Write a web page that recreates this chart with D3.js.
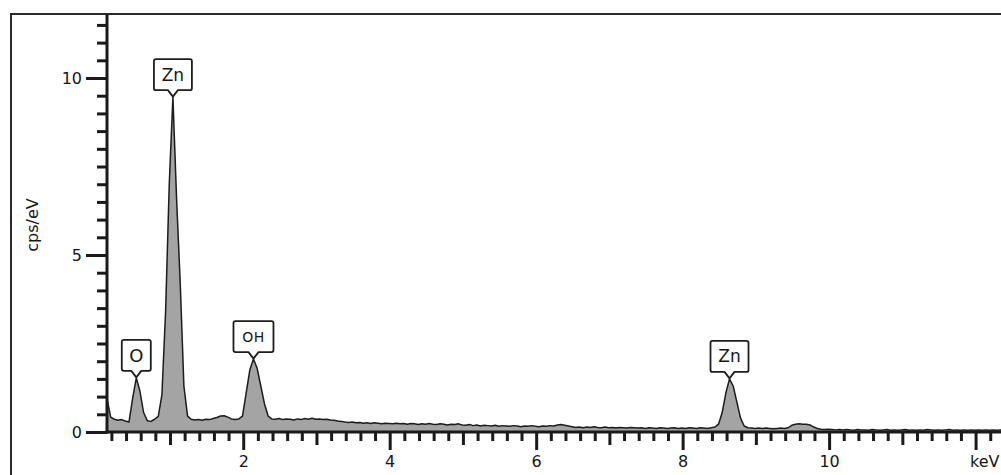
<!DOCTYPE html>
<html>
<head>
<meta charset="utf-8">
<script src="https://cdn.jsdelivr.net/npm/d3@7"></script>
<style>
  html, body { margin: 0; padding: 0; background: #fff; }
  svg { display: block; }
  text { font-family: "DejaVu Sans", Verdana, sans-serif; fill: #161616; }
</style>
</head>
<body>
<svg id="chart" width="1001" height="475"></svg>
<script>
// EDS spectrum: counts per eV sampled on a 0.05 keV channel grid starting at 0.14 keV
const energyStart = 0.14;
const energyStep = 0.05;
const counts = [
  // 0.14 – 1.09 keV
  0.95, 0.42, 0.36, 0.33, 0.35, 0.31, 0.28, 0.95, 1.53, 1.15, 0.55, 0.32, 0.30, 0.36, 0.44, 1.05, 3.40, 7.00, 9.46, 6.60,
  // 1.14 – 2.09 keV
  4.20, 1.30, 0.45, 0.36, 0.34, 0.35, 0.33, 0.36, 0.35, 0.38, 0.41, 0.45, 0.46, 0.42, 0.37, 0.35, 0.37, 0.45, 1.10, 1.75,
  // 2.14 – 3.09 keV
  2.06, 1.80, 1.30, 0.80, 0.45, 0.37, 0.36, 0.38, 0.35, 0.37, 0.36, 0.34, 0.37, 0.35, 0.38, 0.36, 0.39, 0.36, 0.37, 0.35,
  // 3.14 – 4.09 keV
  0.36, 0.34, 0.33, 0.31, 0.30, 0.28, 0.27, 0.28, 0.26, 0.27, 0.25, 0.26, 0.24, 0.26, 0.25, 0.23, 0.25, 0.24, 0.23, 0.25,
  // 4.14 – 5.09 keV
  0.23, 0.24, 0.22, 0.24, 0.23, 0.21, 0.23, 0.22, 0.24, 0.22, 0.21, 0.23, 0.22, 0.20, 0.22, 0.21, 0.23, 0.20, 0.19, 0.21,
  // 5.14 – 6.09 keV
  0.18, 0.20, 0.17, 0.19, 0.18, 0.17, 0.19, 0.16, 0.18, 0.17, 0.16, 0.18, 0.17, 0.15, 0.17, 0.16, 0.18, 0.16, 0.15, 0.17,
  // 6.14 – 7.09 keV
  0.16, 0.18, 0.17, 0.20, 0.21, 0.19, 0.17, 0.15, 0.13, 0.14, 0.12, 0.14, 0.13, 0.15, 0.13, 0.12, 0.14, 0.12, 0.13, 0.11,
  // 7.14 – 8.09 keV
  0.13, 0.12, 0.11, 0.13, 0.12, 0.11, 0.12, 0.10, 0.12, 0.11, 0.10, 0.12, 0.11, 0.10, 0.11, 0.12, 0.10, 0.11, 0.10, 0.12,
  // 8.14 – 9.09 keV
  0.11, 0.10, 0.12, 0.11, 0.10, 0.12, 0.14, 0.22, 0.55, 1.10, 1.50, 1.30, 0.85, 0.40, 0.17, 0.12, 0.11, 0.10, 0.11, 0.10,
  // 9.14 – 10.09 keV
  0.11, 0.10, 0.09, 0.10, 0.11, 0.10, 0.12, 0.19, 0.22, 0.23, 0.22, 0.22, 0.20, 0.14, 0.10, 0.08, 0.07, 0.08, 0.07, 0.06,
  // 10.14 – 11.09 keV
  0.07, 0.06, 0.07, 0.06, 0.05, 0.07, 0.06, 0.06, 0.05, 0.07, 0.06, 0.05, 0.06, 0.07, 0.05, 0.06, 0.05, 0.06, 0.07, 0.05,
  // 11.14 – 12.09 keV
  0.06, 0.05, 0.06, 0.05, 0.07, 0.06, 0.05, 0.06, 0.05, 0.06, 0.07, 0.05, 0.06, 0.05, 0.06, 0.05, 0.06, 0.05, 0.06, 0.05,
  // 12.14 – 12.49 keV
  0.06, 0.05, 0.06, 0.05, 0.06, 0.05, 0.06, 0.05
];

// Identified peaks (element label and the channel energy of the peak top)
const peakNames = ["O", "Zn", "OH", "Zn"];
const peakEnergies = [0.54, 1.04, 2.14, 8.64];
const peakFontSizes = [18, 17, 14, 17];
const peakBoxWidths = [29, 38, 40, 38];

// Axis ticks
const yMajorTicks = [0, 5, 10];
const yMinorTicks = [0.5, 1, 1.5, 2, 2.5, 3, 3.5, 4, 4.5, 5.5, 6, 6.5, 7, 7.5, 8, 8.5, 9, 9.5, 10.5, 11, 11.5];
const xMajorTicks = [2, 4, 6, 8, 10, 12];
const xMajorLabels = ["2", "4", "6", "8", "10", "keV"];
const xMidTicks = [1, 3, 5, 7, 9, 11];
const xMinorTicks = d3.range(1, 63).map(i => +(i * 0.2).toFixed(1)).filter(v => Math.abs(v - Math.round(v)) > 1e-6);

const spectrum = counts.map((c, i) => ({ e: +(energyStart + i * energyStep).toFixed(2), c }));

const svg = d3.select("#chart");
const x = d3.scaleLinear().domain([0.14, 12.47]).range([107, 1010]);
const y = d3.scaleLinear().domain([0, 11.8]).range([432, 14.3]);

// outer frame
svg.append("rect")
  .attr("x", 11).attr("y", 14)
  .attr("width", 1010).attr("height", 480)
  .attr("fill", "none").attr("stroke", "#2a2a2a").attr("stroke-width", 2);

// spectrum fill and outline
svg.append("path")
  .datum(spectrum)
  .attr("fill", "#a4a4a4")
  .attr("d", d3.area().x(d => x(d.e)).y0(y(0)).y1(d => y(d.c)));

svg.append("path")
  .datum(spectrum)
  .attr("fill", "none")
  .attr("stroke", "#1c1c1c")
  .attr("stroke-width", 1.5)
  .attr("stroke-linejoin", "round")
  .attr("d", d3.line().x(d => x(d.e)).y(d => y(d.c)));

function styleAxis(g) {
  g.select(".domain").remove();
  g.selectAll(".tick line").attr("stroke", "#1a1a1a").attr("stroke-width", 3);
  g.selectAll(".tick text").style("font-size", "16px").attr("fill", "#161616");
}

// y axis
svg.append("g").attr("transform", "translate(107,0)")
  .call(d3.axisLeft(y).tickValues(yMinorTicks).tickSize(10).tickFormat(""))
  .call(styleAxis);
svg.append("g").attr("transform", "translate(107,0)")
  .call(d3.axisLeft(y).tickValues(yMajorTicks).tickSize(21).tickPadding(4).tickFormat(d3.format("d")))
  .call(styleAxis);

// x axis
const xAxisY = y(0);
svg.append("g").attr("transform", `translate(0,${xAxisY})`)
  .call(d3.axisBottom(x).tickValues(xMinorTicks).tickSize(9).tickFormat(""))
  .call(styleAxis);
svg.append("g").attr("transform", `translate(0,${xAxisY})`)
  .call(d3.axisBottom(x).tickValues(xMidTicks).tickSize(13).tickFormat(""))
  .call(styleAxis);
const xMajor = svg.append("g").attr("transform", `translate(0,${xAxisY})`)
  .call(d3.axisBottom(x).tickValues(xMajorTicks).tickSize(18).tickPadding(6)
    .tickFormat((d, i) => xMajorLabels[i]))
  .call(styleAxis);
xMajor.selectAll(".tick text")
  .filter(d => d === 12)
  .attr("text-anchor", "start")
  .attr("x", -6);

// axis lines
svg.append("line")
  .attr("x1", 107).attr("x2", 107).attr("y1", 14).attr("y2", xAxisY + 1.5)
  .attr("stroke", "#1a1a1a").attr("stroke-width", 3);
svg.append("line")
  .attr("x1", 105.5).attr("x2", 1010).attr("y1", xAxisY).attr("y2", xAxisY)
  .attr("stroke", "#1a1a1a").attr("stroke-width", 3);

// y axis title
svg.append("text")
  .attr("transform", "translate(38,225) rotate(-90)")
  .attr("text-anchor", "middle")
  .style("font-size", "16px")
  .text("cps/eV");

// peak callouts: box with a notch pointing at the peak top
const callouts = peakNames.map((name, i) => {
  const idx = Math.round((peakEnergies[i] - energyStart) / energyStep);
  return { name, e: spectrum[idx].e, c: spectrum[idx].c, fs: peakFontSizes[i], w: peakBoxWidths[i] };
});

const cg = svg.append("g");
callouts.forEach(d => {
  const px = x(d.e), py = y(d.c) - 0.5;
  const notchH = 6.5, notchW = 5, boxH = 31, r = 2;
  const bottom = py - notchH, top = bottom - boxH;
  const l = px - d.w / 2, rt = px + d.w / 2;
  const p = d3.path();
  p.moveTo(px, py);
  p.lineTo(px - notchW, bottom);
  p.lineTo(l + r, bottom);
  p.quadraticCurveTo(l, bottom, l, bottom - r);
  p.lineTo(l, top + r);
  p.quadraticCurveTo(l, top, l + r, top);
  p.lineTo(rt - r, top);
  p.quadraticCurveTo(rt, top, rt, top + r);
  p.lineTo(rt, bottom - r);
  p.quadraticCurveTo(rt, bottom, rt - r, bottom);
  p.lineTo(px + notchW, bottom);
  p.closePath();
  cg.append("path").attr("d", p.toString())
    .attr("fill", "#fff").attr("stroke", "#1e1e1e").attr("stroke-width", 1.8)
    .attr("stroke-linejoin", "round");
  cg.append("text")
    .attr("x", px).attr("y", (top + bottom) / 2)
    .attr("text-anchor", "middle")
    .attr("dominant-baseline", "central")
    .style("font-size", d.fs + "px")
    .style("letter-spacing", d.name === "OH" ? "0.5px" : "0px")
    .attr("fill", d.name === "OH" ? "#22314f" : "#161616")
    .text(d.name);
});
</script>
</body>
</html>
